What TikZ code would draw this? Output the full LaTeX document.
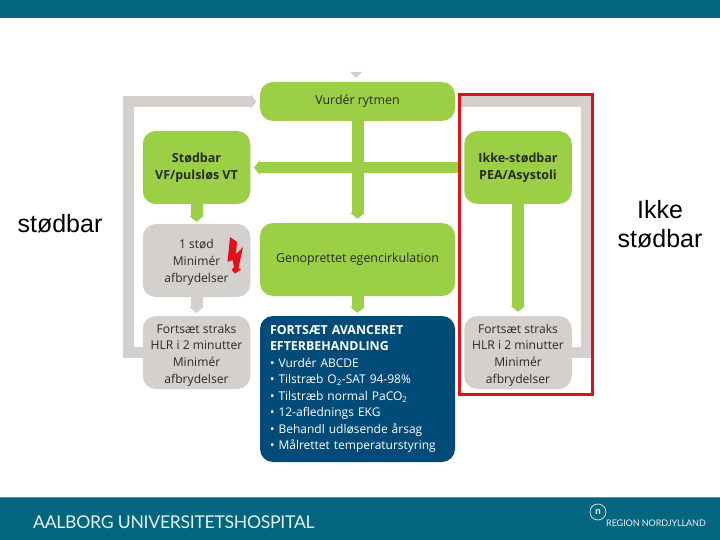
\documentclass[tikz,border=0pt]{standalone}
\usepackage{fontspec}
\setmainfont{Open Sans}
\newfontfamily\arialf{Liberation Sans}
\newfontfamily\footf[LetterSpace=-1.6]{Lato}
\usetikzlibrary{arrows.meta}
\definecolor{teal0}{HTML}{02667F}
\definecolor{green0}{HTML}{9BCF45}
\definecolor{gray0}{HTML}{D3D0CE}
\definecolor{blue0}{HTML}{004B78}
\definecolor{red0}{HTML}{DE1218}
\definecolor{ink}{HTML}{2A2A22}
\definecolor{pale}{HTML}{E6F1F3}
\tikzset{
 box/.style={rectangle,rounded corners=13pt,inner sep=0pt,align=center,text=ink,
   minimum width=107.5pt,minimum height=73pt,font=\fontsize{12.1}{16.6}\selectfont},
 greenbox/.style={box,fill=green0},
 graybox/.style={box,fill=gray0},
 widebox/.style={box,minimum width=195pt,font=\fontsize{12.4}{16.6}\selectfont},
 strong/.style={font=\fontsize{12.5}{16.6}\selectfont\bfseries},
 garrow/.style={draw=green0,line width=12pt,-{Triangle[width=14.5pt,length=6pt]}},
 grarrow/.style={draw=gray0,line width=12pt,-{Triangle[width=14.5pt,length=6pt]}},
 loopline/.style={draw=gray0,line width=10.5pt,line join=miter},
 outer/.style={font=\arialf\fontsize{25}{29}\selectfont,text=black,align=center,inner sep=0pt},
}
\begin{document}
\begin{tikzpicture}[x=1pt,y=-1pt]
\useasboundingbox (0,0) rectangle (720,540);
\fill[white] (0,0) rectangle (720,540);
\fill[teal0] (0,0) rectangle (720,18.5);
\fill[teal0] (0,497) rectangle (720,540);
\draw[teal0!70!white,line width=0.8pt] (0,497.3) -- (720,497.3);

% boxes
\node[widebox,fill=green0,minimum height=39pt] (vurder) at (357.5,101.5) {\raisebox{1pt}{Vurdér rytmen}};
\node[greenbox,strong] (stod) at (196.5,167.5) {Stødbar\\VF/pulsløs VT};
\node[greenbox,strong] (ikke) at (518,167.5) {Ikke-stødbar\\PEA/Asystoli};
\node[graybox] (et) at (196.5,260.5) {\rule{0pt}{13pt}1 stød\\Minimér\\afbrydelser};
\node[widebox,fill=green0] (gen) at (357.5,259.5) {Genoprettet egencirkulation};
\node[graybox] (fl) at (196.5,352.5) {\rule{0pt}{14.5pt}Fortsæt straks\\HLR i 2 minutter\\Minimér\\afbrydelser};
\node[graybox] (fr) at (518,352.5) {\rule{0pt}{14.5pt}Fortsæt straks\\HLR i 2 minutter\\Minimér\\afbrydelser};
\node[widebox,fill=blue0,minimum height=146pt,text=white,align=left,text width=175pt,
  font=\fontsize{12}{16.5}\selectfont] (blue) at (357.5,389)
  {{\fontsize{12.4}{16.5}\selectfont\textbf{FORTSÆT AVANCERET}}\\{\fontsize{12.4}{16.5}\selectfont\textbf{EFTERBEHANDLING}}\\
   • Vurdér ABCDE\\
   • Tilstræb O\textsubscript{2}-SAT 94-98\%\\
   • Tilstræb normal PaCO\textsubscript{2}\\
   • 12-aflednings EKG\\
   • Behandl udløsende årsag\\
   • Målrettet temperaturstyring};

% connectors
\coordinate (cl) at (128.5,200);
\coordinate (cr) at (586,200);
\draw[loopline,-{Triangle[width=14.5pt,length=5.5pt]},shorten >=3.5pt] (fl.west) -| (cl) |- (vurder.west);
\draw[loopline,shorten >=5pt] (fr.east) -| (cr) |- (vurder.east);
\draw[garrow,shorten >=4pt] (vurder.south) -- (gen.north);
\draw[garrow,line width=10.5pt,shorten >=3.5pt,shorten <=6pt] (ikke.west) -- (stod.east);
\draw[garrow,shorten >=2pt] (stod.south) -- (et.north);
\draw[grarrow,shorten >=3pt] (et.south) -- (fl.north);
\draw[garrow,shorten >=3pt] (gen.south) -- (blue.north);
\draw[garrow,shorten >=4pt] (ikke.south) -- (fr.north);
\fill[gray0] (350,72) -- (362,72) -- (356,78) -- cycle;

% bolt
\fill[red0] (230,237) -- (237,242) -- (236,254) -- (243,247) -- (238.5,268) -- (241,269.5) -- (235,273.5) -- (231.5,270) -- (234,267) -- (232.5,260) -- (227.5,262) -- cycle;

% frame
\node[draw=red0,line width=3pt,rectangle,minimum width=133pt,minimum height=299pt,inner sep=0pt] (frame) at (525.5,244.5) {};

% outer labels
\node[outer] (ls) at (60,224) {stødbar};
\node[outer] (rs) at (660,224) {Ikke\\stødbar};

% footer
\node[font=\footf\fontsize{17.6}{20}\selectfont,text=pale,inner sep=0pt,anchor=west] (aub) at (33,522) {AALBORG UNIVERSITETSHOSPITAL};
\node[draw=pale,line width=0.7pt,circle,minimum size=16pt,inner sep=0pt,text=pale,font=\fontsize{9}{9}\selectfont\bfseries] (logo) at (598,512) {n};
\node[font=\footf\fontsize{9.1}{10}\selectfont,text=pale,inner sep=0pt,anchor=west] (rn) at (606,523.5) {REGION NORDJYLLAND};
\end{tikzpicture}
\end{document}
